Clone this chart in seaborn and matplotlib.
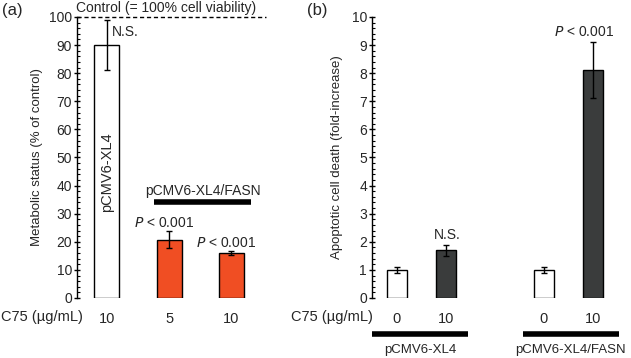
import matplotlib
matplotlib.use('Agg')
import matplotlib.pyplot as plt
from matplotlib.ticker import MultipleLocator
import seaborn as sns
import pandas as pd

sns.set_theme(style='white')
plt.rcParams['font.family'] = ['Liberation Sans', 'DejaVu Sans']

# panel (a): metabolic status
a_groups = ['pCMV6-XL4', 'FASN 5', 'FASN 10']
a_ticks = ['10', '5', '10']
a_values = [90, 20.8, 16]
a_errors = [9, 3, 0.6]
a_colors = ['white', '#F04E23', '#F04E23']

# panel (b): apoptotic cell death
b_pos = [0, 1, 3, 4]
b_ticks = ['0', '10', '0', '10']
b_values = [1.0, 1.7, 1.0, 8.1]
b_errors = [0.1, 0.2, 0.1, 1.0]
b_colors = ['white', '#3A3C3C', 'white', '#3A3C3C']

df_a = pd.DataFrame({'grp': a_groups, 'val': a_values})
df_b = pd.DataFrame({'pos': b_pos, 'val': b_values, 'grp': [str(i) for i in range(4)]})

fig = plt.figure(figsize=(6.31, 3.58), dpi=100)
axA = fig.add_axes([0.122, 0.1676, 0.300, 0.785])
axB = fig.add_axes([0.5895, 0.1676, 0.391, 0.785])


def style_axis(ax, minor):
    for s in ['top', 'right', 'bottom']:
        ax.spines[s].set_visible(False)
    ax.spines['left'].set_color('black')
    ax.spines['left'].set_linewidth(1)
    ax.yaxis.set_minor_locator(MultipleLocator(minor))
    ax.tick_params(axis='y', which='major', direction='inout', length=5, width=1,
                   color='black', labelsize=10, pad=1, left=True)
    ax.tick_params(axis='y', which='minor', direction='in', length=2.2, width=0.8,
                   color='black', left=True)
    ax.tick_params(axis='x', length=0, labelsize=10.5, pad=10)
    ax.set_xlabel('')
    ax.grid(False)


# ---- panel (a)
sns.barplot(data=df_a, x='grp', y='val', hue='grp', palette=a_colors, width=0.4,
            saturation=1, edgecolor='black', linewidth=1, legend=False, ax=axA)
axA.errorbar(range(3), a_values, yerr=a_errors, fmt='none', ecolor='black',
             elinewidth=1, capsize=2.5, capthick=1)
axA.set_xlim(-0.48, 2.56)
axA.set_ylim(0, 100)
axA.set_yticks(range(0, 101, 10))
style_axis(axA, 2)
axA.set_xticks(range(3), a_ticks)
axA.set_ylabel('Metabolic status (% of control)', fontsize=9.5, labelpad=4)
axA.axhline(100, color='black', lw=1, ls=(0, (3, 2)), clip_on=False)
axA.text(0.95, 103.3, 'Control (= 100% cell viability)', ha='center', va='center',
         fontsize=10, clip_on=False)
axA.text(0.08, 94.7, 'N.S.', ha='left', va='center', fontsize=10)
axA.text(0, 44.8, 'pCMV6-XL4', rotation=90, ha='center', va='center', fontsize=10.5)
axA.text(1.55, 38.2, 'pCMV6-XL4/FASN', ha='center', va='center', fontsize=10)
axA.plot([0.76, 2.32], [34, 34], color='black', lw=4, solid_capstyle='butt')
axA.text(0.92, 26.7, '$P$ < 0.001', ha='center', va='center', fontsize=10)
axA.text(1.92, 19.7, '$P$ < 0.001', ha='center', va='center', fontsize=10)
axA.text(0.03, -0.068, 'C75 (µg/mL)', transform=axA.transAxes, ha='right',
         va='center', fontsize=10.5)

# ---- panel (b)
sns.barplot(data=df_b, x='pos', y='val', hue='grp', palette=b_colors, native_scale=True,
            width=0.41, saturation=1, edgecolor='black', linewidth=1, legend=False, ax=axB)
axB.errorbar(b_pos, b_values, yerr=b_errors, fmt='none', ecolor='black',
             elinewidth=1, capsize=2.5, capthick=1)
axB.set_xlim(-0.51, 4.53)
axB.set_ylim(0, 10)
axB.set_yticks(range(0, 11))
style_axis(axB, 0.2)
axB.set_xticks(b_pos, b_ticks)
axB.set_ylabel('Apoptotic cell death (fold-increase)', fontsize=9.5, labelpad=6)
axB.text(1.02, 2.25, 'N.S.', ha='center', va='center', fontsize=10)
axB.text(3.83, 9.46, '$P$ < 0.001', ha='center', va='center', fontsize=10)
axB.text(0.004, -0.068, 'C75 (µg/mL)', transform=axB.transAxes, ha='right',
         va='center', fontsize=10.5)
tr = axB.get_xaxis_transform()
axB.plot([-0.51, 1.45], [-0.128, -0.128], color='black', lw=4, transform=tr,
         clip_on=False, solid_capstyle='butt')
axB.plot([2.57, 4.53], [-0.128, -0.128], color='black', lw=4, transform=tr,
         clip_on=False, solid_capstyle='butt')
axB.text(0.47, -0.185, 'pCMV6-XL4', transform=tr, ha='center', va='center', fontsize=9.5)
axB.text(3.55, -0.185, 'pCMV6-XL4/FASN', transform=tr, ha='center', va='center', fontsize=9.5)

fig.text(0.003, 0.972, '(a)', fontsize=12, ha='left', va='center')
fig.text(0.487, 0.972, '(b)', fontsize=12, ha='left', va='center')

fig.savefig('out.png', dpi=100)
